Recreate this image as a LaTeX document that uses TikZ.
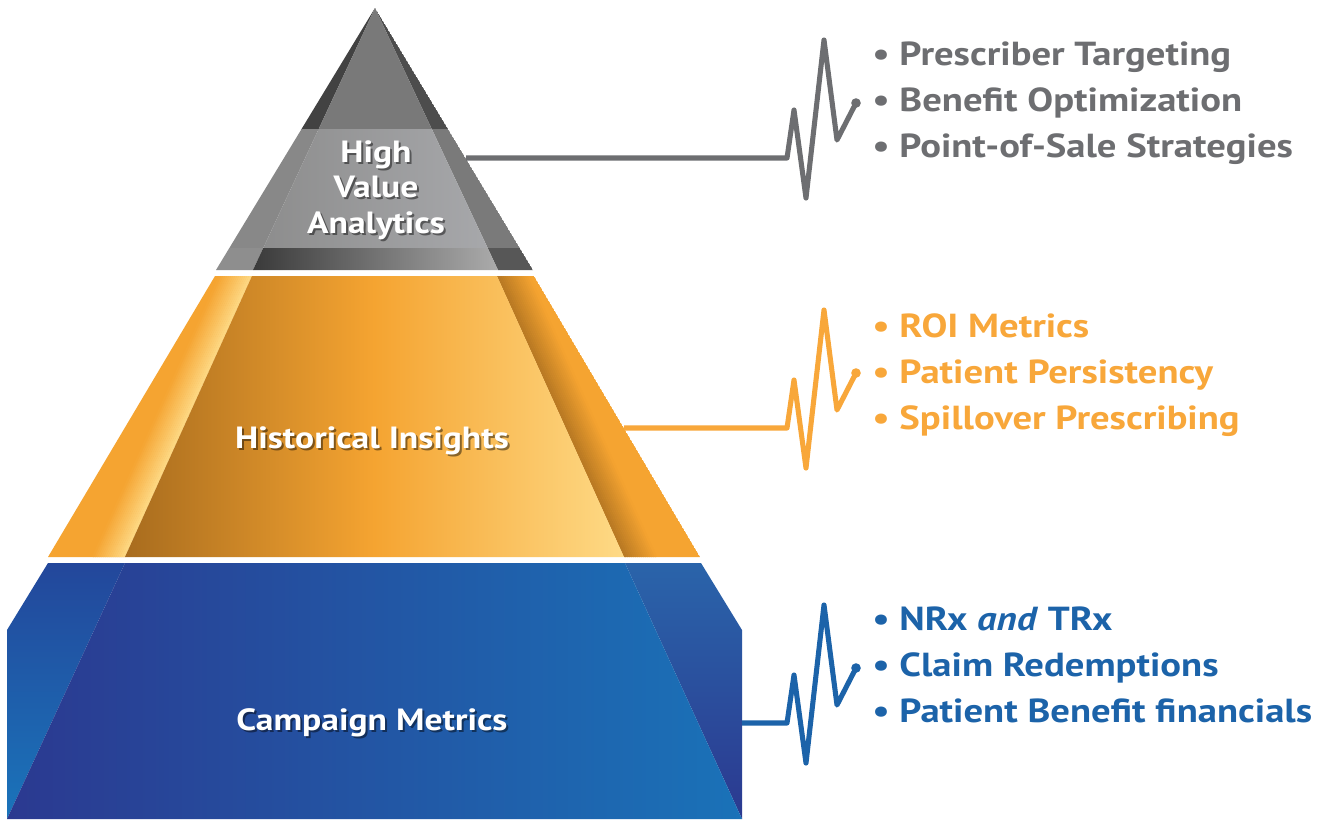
\documentclass[tikz,border=0pt]{standalone}
\usepackage{fontspec}
\setmainfont{PT Sans}[FakeStretch=1.16]
\usetikzlibrary{calc}

%% tier colours
\definecolor{grayText}{HTML}{6D6E71}
\definecolor{orMain}{HTML}{F5A431}
\definecolor{orLight}{HTML}{FEDA86}
\definecolor{orDark}{HTML}{B67722}
\definecolor{orText}{HTML}{F8A73A}
\definecolor{blText}{HTML}{1C63A9}

\tikzstyle{tierlabel}=[
  font={\fontsize{23}{26.3}\selectfont\bfseries},
  text=white,
  align=center,
  inner sep=0pt,
  anchor=base,
]
\tikzstyle{labelshadow}=[
  tierlabel,
  text=black,
  text opacity=.45,
]
\tikzstyle{bullets}=[
  font={\fontsize{25}{34.5}\selectfont\bfseries},
  align=left,
  inner sep=0pt,
  anchor=base west,
]
\tikzstyle{pulse}=[
  line width=3.8pt,
  line join=round,
]
\tikzset{
  x=0.75pt, y=-0.75pt,
}

\begin{document}
\begin{tikzpicture}
  \useasboundingbox (0,0) rectangle (1329,819);
  \fill[white] (0,0) rectangle (1329,819);

  %% top tier
  \coordinate (apex) at (375,8);
  \coordinate (g-bl) at (216,270);
  \coordinate (g-br) at (533,270);
  \coordinate (g-il) at (253,270);
  \coordinate (g-ir) at (498,270);
  \begin{scope}
    \clip (apex) -- (g-bl) -- (g-br) -- cycle;
    \foreach \ya/\yb/\sl/\fl/\fr/\sr in {
        0/129/424242/787878/7A7A7A/4D4D4D,
        129/248/888888/8C8C8C/A8A9AC/7A7A7A,
        248/270/8E8E8E/3A3A3A/ABABAB/575757}{
      \begin{scope}
        \clip (0,\ya) rectangle (1329,\yb);
        \definecolor{sideL}{HTML}{\sl}
        \definecolor{sideR}{HTML}{\sr}
        \definecolor{faceL}{HTML}{\fl}
        \definecolor{faceR}{HTML}{\fr}
        \fill[sideL] (apex) -- (g-bl) -- (g-il) -- cycle;
        \fill[sideR] (apex) -- (g-ir) -- (g-br) -- cycle;
        \shade[left color=faceL, right color=faceR] (apex) -- (g-il) -- (g-ir) -- cycle;
      \end{scope}
    }
  \end{scope}

  %% middle tier
  \coordinate (o-tl) at (215,276);
  \coordinate (o-tr) at (534,276);
  \coordinate (o-bl) at (48,557);
  \coordinate (o-br) at (700,557);
  \coordinate (o-itl) at (252,276);
  \coordinate (o-itr) at (497,276);
  \coordinate (o-ibl) at (125,557);
  \coordinate (o-ibr) at (624,557);
  \begin{scope}
    \clip (o-tl) -- (o-itl) -- (o-ibl) -- (o-bl) -- cycle;
    \fill[orMain] (o-tl) -- (o-itl) -- (o-ibl) -- (o-bl) -- cycle;
    \foreach \i in {0,...,16}{
      \pgfmathtruncatemacro\pct{100-6*\i}
      \draw[line width=1.6pt, orLight!\pct!orMain]
        ($(o-itl)+(-2*\i,0)$) -- ($(o-ibl)+(-2*\i,0)$);
    }
  \end{scope}
  \begin{scope}
    \clip (o-itr) -- (o-tr) -- (o-br) -- (o-ibr) -- cycle;
    \fill[orMain] (o-itr) -- (o-tr) -- (o-br) -- (o-ibr) -- cycle;
    \foreach \i in {0,...,16}{
      \pgfmathtruncatemacro\pct{100-6*\i}
      \draw[line width=1.6pt, orDark!\pct!orMain]
        ($(o-itr)+(2*\i,0)$) -- ($(o-ibr)+(2*\i,0)$);
    }
  \end{scope}
  \shade[left color={rgb,255:red,168;green,108;blue,30}, right color=orLight,
    middle color=orMain] (o-itl) -- (o-itr) -- (o-ibr) -- (o-ibl) -- cycle;

  %% bottom tier
  \coordinate (b-tl) at (48,563);
  \coordinate (b-tr) at (701,563);
  \coordinate (b-ml) at (7,630);
  \coordinate (b-mr) at (742,630);
  \coordinate (b-bl) at (7,819);
  \coordinate (b-br) at (742,819);
  \coordinate (b-itl) at (125,563);
  \coordinate (b-itr) at (625,563);
  \shade[top color={rgb,255:red,35;green,71;blue,155},
    bottom color={rgb,255:red,26;green,116;blue,186}]
    (b-tl) -- (b-itl) -- (b-bl) -- (b-ml) -- cycle;
  \shade[top color={rgb,255:red,42;green,100;blue,170},
    bottom color={rgb,255:red,43;green,57;blue,144}]
    (b-itr) -- (b-tr) -- (b-mr) -- (b-br) -- cycle;
  \shade[left color={rgb,255:red,43;green,57;blue,144},
    right color={rgb,255:red,26;green,114;blue,184}]
    (b-itl) -- (b-itr) -- (b-br) -- (b-bl) -- cycle;

  %% tier labels
  \node (hva-shadow) [labelshadow] at (378,235) {High\\Value\\Analytics};
  \node (hva) [tierlabel] at (376,233) {High\\Value\\Analytics};
  \node (hist-shadow) [labelshadow] at (374,450) {Historical Insights};
  \node (hist) [tierlabel] at (372,448) {Historical Insights};
  \node (camp-shadow) [labelshadow] at (374,732) {Campaign Metrics};
  \node (camp) [tierlabel] at (372,730) {Campaign Metrics};

  %% bullet lists
  \node (hva-list) [bullets, text=grayText] at (872,157)
    {• Prescriber Targeting\\• Benefit Optimization\\• Point-of-Sale Strategies};
  \node (hist-list) [bullets, text=orText] at (872,429)
    {• ROI Metrics\\• Patient Persistency\\• Spillover Prescribing};
  \node (camp-list) [bullets, text=blText] at (872,722)
    {• NRx \textit{and} TRx\\• Claim Redemptions\\• Patient Benefit financials};

  %% pulse connectors
  \coordinate (hva-out) at (466,158);
  \coordinate (hist-out) at (624,428);
  \coordinate (camp-out) at (742,723);
  \draw [pulse, grayText] (hva-out) -- (787,158) -- ++(7,-48) -- ++(12,88)
    -- ++(18,-158) -- ++(13,100) -- ++(19,-37) coordinate (hva-tip);
  \fill [grayText] (hva-tip) circle (3.6pt);
  \draw [pulse, orText] (hist-out) -- (787,428) -- ++(7,-48) -- ++(12,88)
    -- ++(18,-158) -- ++(13,100) -- ++(19,-37) coordinate (hist-tip);
  \fill [orText] (hist-tip) circle (3.6pt);
  \draw [pulse, blText] (camp-out) -- (787,723) -- ++(7,-48) -- ++(12,88)
    -- ++(18,-158) -- ++(13,100) -- ++(19,-37) coordinate (camp-tip);
  \fill [blText] (camp-tip) circle (3.6pt);
\end{tikzpicture}
\end{document}
